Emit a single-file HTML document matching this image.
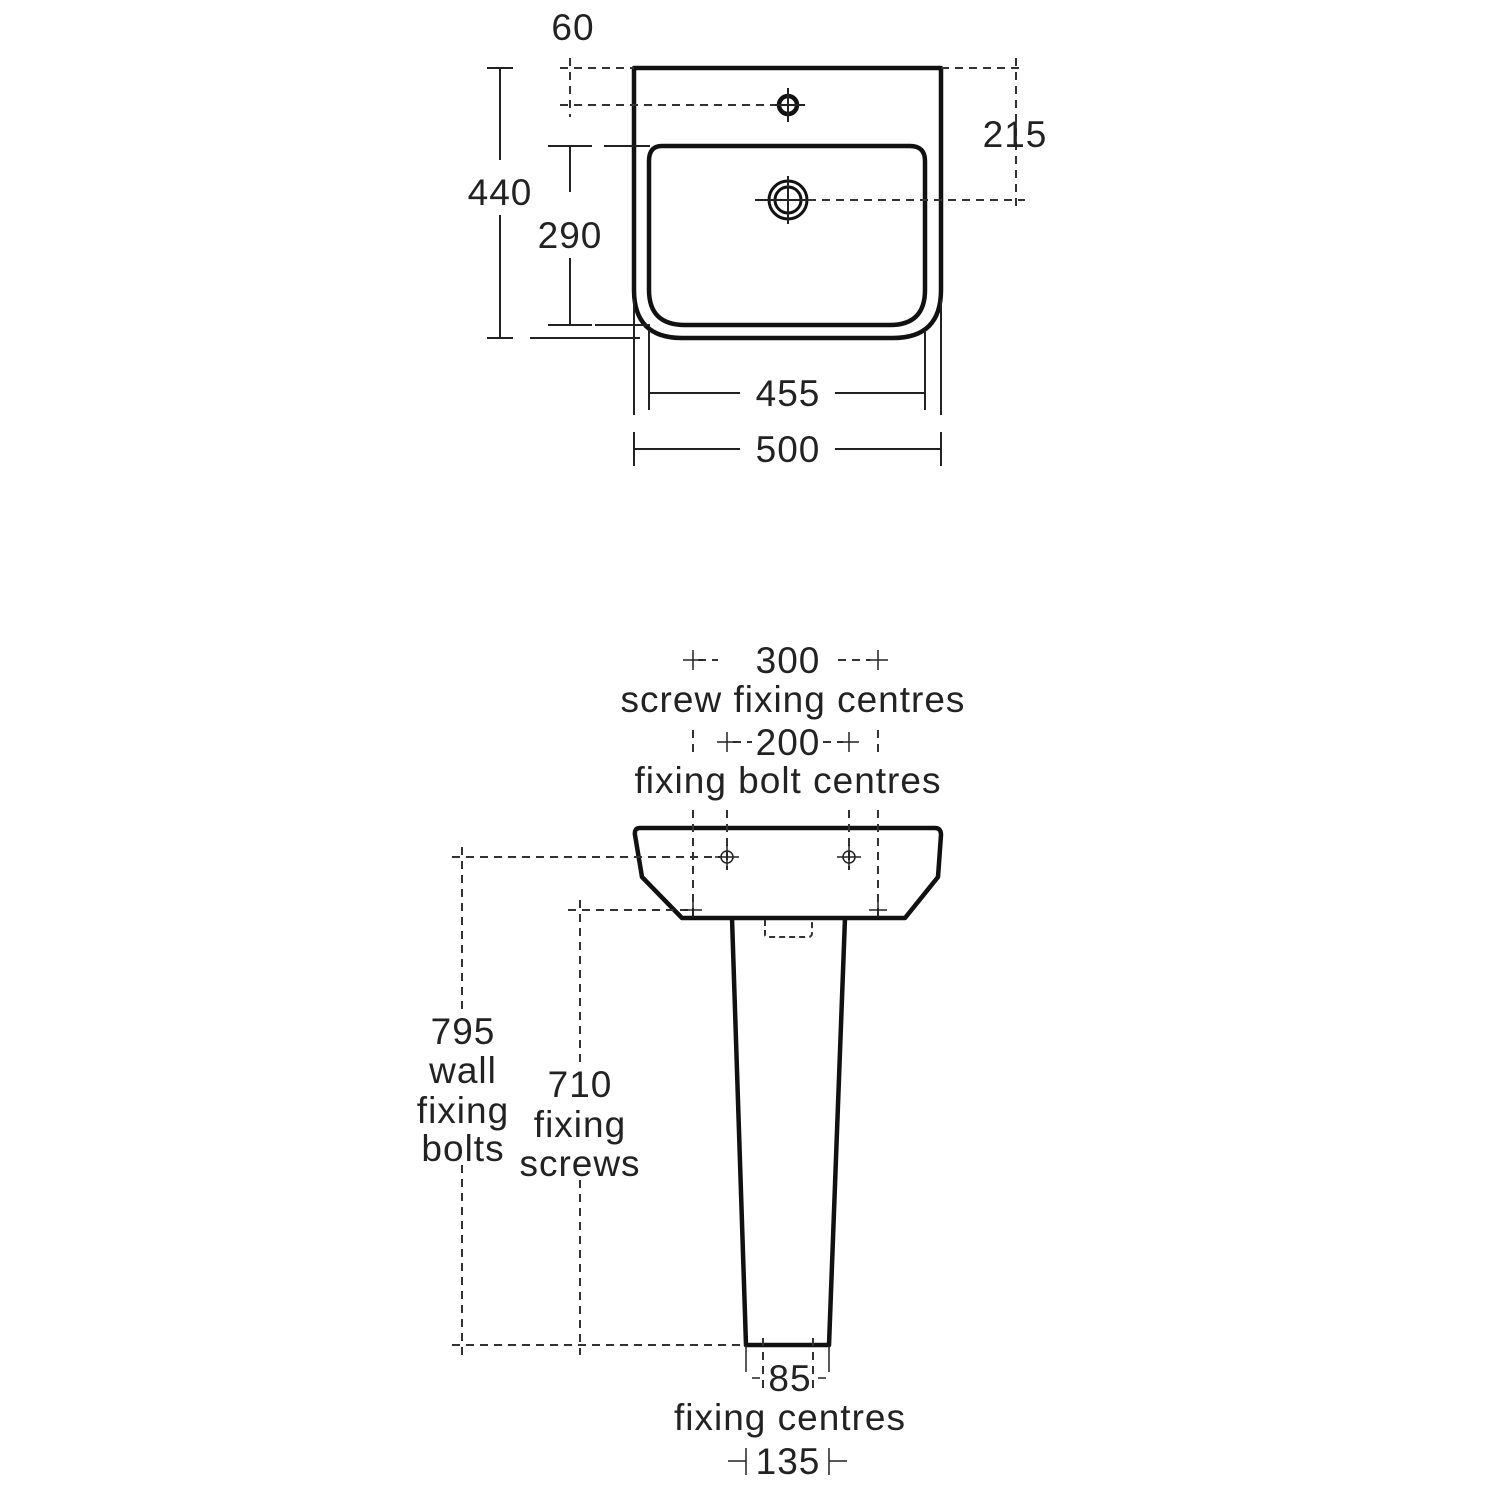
<!DOCTYPE html>
<html><head><style>body{margin:0;background:#fff}svg{display:block}text{font-family:"Liberation Sans",sans-serif;font-size:37px;letter-spacing:1px;fill:#222;text-anchor:middle}</style></head>
<body>
<svg width="1500" height="1500" viewBox="0 0 1500 1500" xmlns="http://www.w3.org/2000/svg">
<g fill="none" stroke="#111" stroke-width="4.5" stroke-linejoin="round">
<path d="M634 68 H941 V290 Q941 338 893 338 H682 Q634 338 634 290 Z"/>
<path d="M662 146 H910 Q925 146 925 161 V290 Q925 325 890 325 H685 Q649 325 649 290 V161 Q649 146 662 146 Z"/>
<circle cx="788" cy="105" r="9"/>
<circle cx="788" cy="200" r="19" stroke-width="3"/>
<circle cx="788" cy="200" r="13" stroke-width="3"/>
<path d="M640 828 H935 Q941 828 941 835 L938 877 L905 918 H682 L642 877 L635 835 Q634 828 640 828 Z"/>
<path d="M732 918 L746 1345 H829 L845 918"/>
</g>
<g fill="none" stroke="#222" stroke-width="2">
<path d="M500 68 V160 M500 215 V338 M487 68 H513 M487 338 H513"/>
<path d="M570 146 V192 M570 258 V325 M548 146 H592 M548 325 H592 M604 146 H650 M595 325 H650 M530 338 H640"/>
<path d="M649 330 V410 M925 330 V410 M649 393 H740 M835 393 H925 M649 380 V406 M925 380 V406"/>
<path d="M634 300 V415 M941 300 V415 M634 449 H740 M835 449 H941 M634 432 V466 M941 432 V466"/>
<path d="M788 88 V122 M771 105 H805 M788 176 V224 M755 200 H808"/>
</g>
<g fill="none" stroke="#333" stroke-width="2" stroke-dasharray="8 6">
<path d="M560 68 H634 M560 105 H775 M570 58 V117"/>
<path d="M941 68 H1025 M808 200 H1025 M1016 58 V212"/>
<path d="M452 857 H720 M462 847 V1010 M462 1165 V1355"/>
<path d="M568 910 H693 M580 900 V1065 M580 1180 V1355"/>
<path d="M452 1345 H746"/>
<path d="M693 810 V918 M878 810 V918 M727 810 V870 M849 810 V870"/>
<path d="M693 730 V756 M878 730 V756"/>
<path d="M698 660 H718 M838 660 H870 M733 742 H752 M823 742 H843"/>
<path d="M763 1338 V1392 M813 1338 V1392"/>
<path d="M765 920 V935 Q765 937 770 937 H808 Q812 937 812 933 V920" stroke-dasharray="6 4"/>
</g>
<g fill="none" stroke="#222" stroke-width="1.5">
<path d="M683 660 H703 M693 650 V670 M868 660 H888 M878 650 V670"/>
<path d="M717 742 H737 M727 732 V752 M839 742 H859 M849 732 V752"/>
<circle cx="727" cy="857" r="6"/><circle cx="849" cy="857" r="6"/>
<path d="M715 857 H739 M727 845 V869 M837 857 H861 M849 845 V869"/>
<path d="M684 910 H702 M693 902 V918 M869 910 H887 M878 902 V918"/>
<path d="M746 1345 V1372 M829 1345 V1372 M752 1378 H760 M818 1378 H826"/>
<path d="M728 1461 H746 M746 1448 V1475 M829 1461 H847 M829 1448 V1475"/>
</g>
<text x="573" y="40">60</text>
<text x="1015" y="147">215</text>
<text x="500" y="205">440</text>
<text x="570" y="248">290</text>
<text x="788" y="406">455</text>
<text x="788" y="462">500</text>
<text x="788" y="673">300</text>
<text x="793" y="712">screw fixing centres</text>
<text x="788" y="755">200</text>
<text x="788" y="793">fixing bolt centres</text>
<text x="463" y="1044">795</text>
<text x="463" y="1083">wall</text>
<text x="463" y="1123">fixing</text>
<text x="463" y="1161">bolts</text>
<text x="580" y="1097">710</text>
<text x="580" y="1137">fixing</text>
<text x="580" y="1176">screws</text>
<text x="790" y="1391">85</text>
<text x="790" y="1430">fixing centres</text>
<text x="788" y="1474">135</text>
</svg>
</body></html>
